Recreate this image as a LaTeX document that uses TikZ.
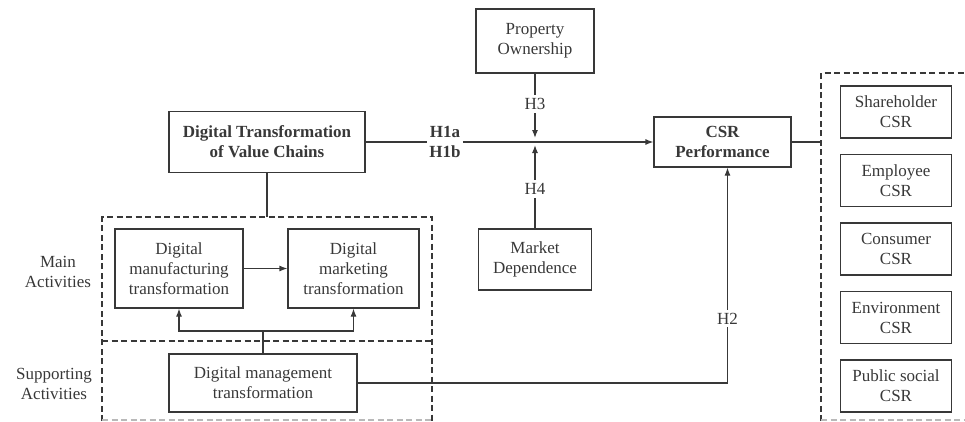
\documentclass[tikz,border=0pt]{standalone}
\usepackage{fontspec}
\setmainfont{Liberation Serif}
\usetikzlibrary{arrows.meta,positioning}
\definecolor{ink}{gray}{0.22}

\tikzset{
  txt/.style={font=\fontsize{17}{20}\selectfont, text=ink, align=center},
  boldtxt/.style={txt, font=\fontsize{17}{20}\selectfont\bfseries},
  box/.style={txt, draw=ink, line width=1.2pt, inner sep=0pt},
  csrbox/.style={box, minimum width=111pt, minimum height=52pt},
  link/.style={draw=ink, line width=1.2pt},
  arr/.style={link, -{Latex[length=8pt,width=6pt]}},
  zone/.style={draw=ink, line width=1.2pt, dash pattern=on 6pt off 3.5pt},
}

\begin{document}
\begin{tikzpicture}[x=1pt, y=-1pt]
    \useasboundingbox (0,0) rectangle (965,421);

    % dashed zones
    \draw[zone] (102,421) -- (102,217) -- (432,217) -- (432,421);
    \draw[zone] (102,341) -- (432,341);
    \draw[zone, draw=ink!35] (102,420) -- (432,420);
    \draw[zone] (821,421) -- (821,73) -- (965,73);
    \draw[zone, draw=ink!35] (821,420) -- (965,420);

    % main nodes
    \node[box, minimum width=118pt, minimum height=64pt] (own) at (535,41) {Property\\Ownership};
    \node[box, boldtxt, minimum width=196pt, minimum height=61pt] (dtvc) at (267,142) {Digital Transformation\\of Value Chains};
    \node[box, boldtxt, minimum width=137pt, minimum height=50pt] (perf) at (722.5,142) {CSR\\Performance};
    \node[box, minimum width=113pt, minimum height=61pt] (mkt) at (535,259.5) {Market\\Dependence};
    \node[boldtxt, inner sep=2pt] (h1) at (445,142) {H1a\\H1b};
    \node[txt] (h3) at (535,104) {H3};
    \node[txt] (h4) at (535,189) {H4};
    \coordinate (mod) at (535,142);

    % value chain activities
    \node[box, minimum width=128pt, minimum height=79pt] (manu) at (179,268.5) {Digital\\manufacturing\\transformation};
    \node[box, minimum width=131pt, minimum height=79pt] (mktg) at (353.5,268.5) {Digital\\marketing\\transformation};
    \node[box, minimum width=188pt, minimum height=58pt] (mgmt) at (263,383) {Digital management\\transformation};
    \node[txt] (mainlbl) at (58,272) {Main\\Activities};
    \node[txt] (suplbl) at (54,383.5) {Supporting\\Activities};
    \coordinate (fork) at (263,331);
    \coordinate (zonetop) at (267,217);
    \coordinate (zoneedge) at (821,142);

    % CSR dimensions
    \foreach \nm/\lbl [count=\i] in {shr/Shareholder, emp/Employee, con/Consumer, env/Environment, pub/Public social}
      \node[csrbox] (\nm) at (896,112+68.5*\i-68.5) {\lbl\\CSR};

    % connectors
    \draw[link] (dtvc.east) -- (h1.west);
    \draw[arr] (h1.east) -- (perf.west);
    \draw[link] (own.south) -- (h3.north);
    \draw[arr, shorten >=4pt] (h3.south) -- (mod);
    \draw[link] (mkt.north) -- (h4.south);
    \draw[arr, shorten >=3pt] (h4.north) -- (mod);
    \draw[link] (perf.east) -- (zoneedge);
    \draw[link] (dtvc.south) -- (zonetop);
    \draw[arr] (manu) -- (mktg);
    \draw[link] (mgmt.north) -- (fork);
    \draw[arr] (fork) -| (manu.south);
    \draw[arr] (fork) -| (mktg.south);
    \draw[arr] (mgmt.east) -| ([xshift=5pt]perf.south)
      node[txt, pos=0.65, fill=white, inner sep=3pt] (h2) {H2};
\end{tikzpicture}
\end{document}
